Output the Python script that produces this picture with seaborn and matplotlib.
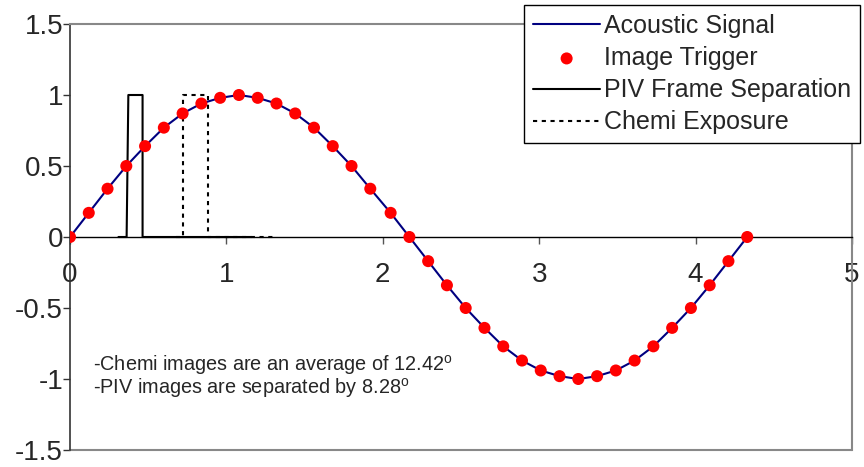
import numpy as np
import pandas as pd
import seaborn as sns
import matplotlib.pyplot as plt

# acoustic signal / image trigger points (every 10 deg of one period)
t_ms = [0.00, 0.12, 0.24, 0.36, 0.48, 0.60, 0.72, 0.84, 0.96, 1.08, 1.20, 1.32,
        1.44, 1.56, 1.68, 1.80, 1.92, 2.05, 2.17, 2.29, 2.41, 2.53, 2.65, 2.77,
        2.89, 3.01, 3.13, 3.25, 3.37, 3.49, 3.61, 3.73, 3.85, 3.97, 4.09, 4.21, 4.33]
signal = [0.00, 0.17, 0.34, 0.50, 0.64, 0.77, 0.87, 0.94, 0.98, 1.00, 0.98, 0.94,
          0.87, 0.77, 0.64, 0.50, 0.34, 0.17, 0.00, -0.17, -0.34, -0.50, -0.64, -0.77,
          -0.87, -0.94, -0.98, -1.00, -0.98, -0.94, -0.87, -0.77, -0.64, -0.50, -0.34, -0.17, 0.00]

piv_t = [0.31, 0.362, 0.373, 0.464, 0.464, 1.16]
piv_y = [0, 0, 1, 1, 0, 0]
chemi_t = [0.68, 0.72, 0.72, 0.88, 0.88, 1.30]
chemi_y = [0, 0, 1, 1, 0, 0]

sig = pd.DataFrame({'t': t_ms, 'v': signal})
piv = pd.DataFrame({'t': piv_t, 'v': piv_y})
chemi = pd.DataFrame({'t': chemi_t, 'v': chemi_y})

sns.set_style("white")
plt.rcParams['font.family'] = ['Liberation Sans', 'DejaVu Sans']
plt.rcParams['mathtext.fontset'] = 'custom'
plt.rcParams['mathtext.rm'] = 'Liberation Sans'

fig = plt.figure(figsize=(8.64, 4.67), dpi=100)
ax = fig.add_axes([70/864, 1-450/467, (852-70)/864, (450-24)/467])

sns.lineplot(data=sig, x='t', y='v', color='#000080', lw=1.5, ax=ax,
             label='Acoustic Signal', sort=False, estimator=None, zorder=3)
sns.scatterplot(data=sig, x='t', y='v', color='#ff0000', s=75, edgecolor='none',
                ax=ax, label='Image Trigger', zorder=4)
sns.lineplot(data=piv, x='t', y='v', color='black', lw=1.5, ax=ax,
             label='PIV Frame Separation', sort=False, estimator=None, zorder=2)
sns.lineplot(data=chemi, x='t', y='v', color='black', lw=1.5, ls=(0, (2, 2.2)),
             ax=ax, label='Chemi Exposure', sort=False, estimator=None, zorder=2)

ax.set_xlim(0, 5)
ax.set_ylim(-1.5, 1.5)
ax.set_xticks([0, 1, 2, 3, 4, 5])
ax.set_yticks([-1.5, -1, -0.5, 0, 0.5, 1, 1.5])
ax.set_yticklabels(['-1.5', '-1', '-0.5', '0', '0.5', '1', '1.5'])
ax.set_xlabel('')
ax.set_ylabel('')

ax.spines['bottom'].set_position(('data', 0))
ax.spines['bottom'].set_color('black')
ax.spines['bottom'].set_linewidth(1.0)
ax.spines['left'].set_color('#333333')
ax.spines['left'].set_linewidth(1.2)
for s in ['top', 'right']:
    ax.spines[s].set_color('#888888')
    ax.spines[s].set_linewidth(1.5)
ax.axhline(-1.5, color='#888888', lw=1.5, clip_on=False)

ax.tick_params(axis='x', direction='out', length=5, width=1, color='#555555',
               labelsize=20, pad=13, bottom=True)
ax.tick_params(axis='y', direction='out', length=5, width=1, color='#333333',
               labelsize=20, pad=0, left=True)

ax.text(0.15, -0.9, r'-Chemi images are an average of 12.42$^\mathrm{o}$',
        fontsize=14.3, va='center', ha='left')
ax.text(0.15, -1.065, r'-PIV images are separated by 8.28$^\mathrm{o}$',
        fontsize=14.3, va='center', ha='left')

leg = ax.legend(loc='upper right', bbox_to_anchor=(860/864, 1-5/467),
                bbox_transform=fig.transFigure, frameon=True, fancybox=False,
                edgecolor='black', fontsize=18, handlelength=2.7,
                labelspacing=0.33, borderpad=0.35, handletextpad=0.15,
                borderaxespad=0, framealpha=1)
leg.get_frame().set_linewidth(1.0)

fig.savefig('out.png', dpi=100)
